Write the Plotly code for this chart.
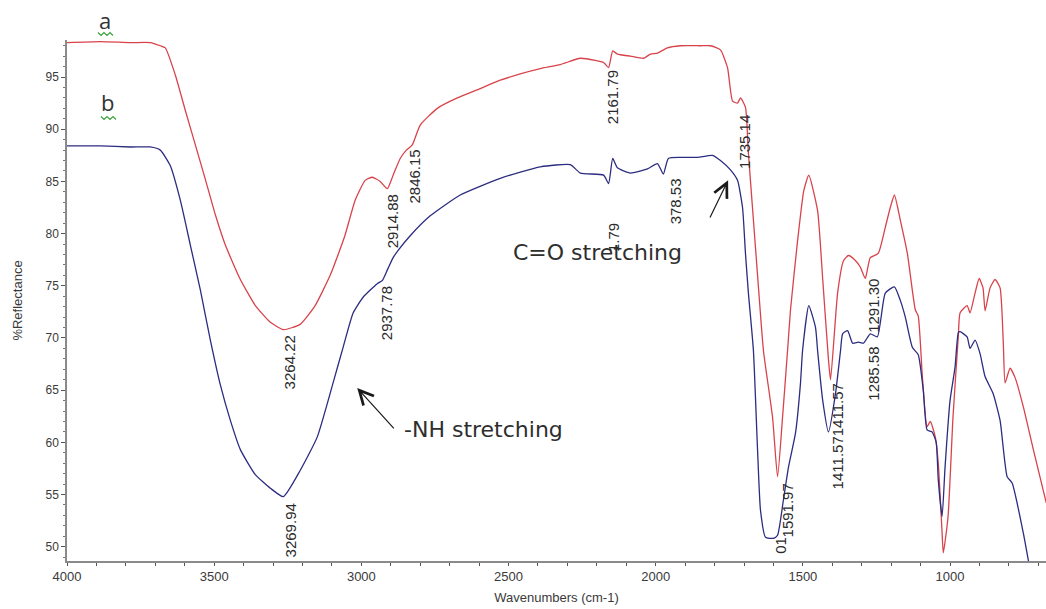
import plotly.graph_objects as go

# ---- data (wavenumber cm-1, % reflectance) ----
wn_a = [4000, 3887, 3785, 3717, 3683, 3666, 3632, 3598, 3564, 3530, 3496, 3462, 3411, 3360, 3309, 3265,
        3208, 3157, 3106, 3056, 3021, 2987, 2963, 2936, 2912, 2892, 2868, 2847, 2827, 2800, 2742, 2674,
        2596, 2528, 2460, 2392, 2324, 2256, 2205, 2177, 2160, 2146, 2130, 2086, 2041, 2018, 1994, 1960,
        1916, 1848, 1814, 1780, 1756, 1739, 1722, 1712, 1695, 1685, 1668, 1651, 1634, 1603, 1586, 1569,
        1552, 1542, 1518, 1497, 1480, 1450, 1433, 1413, 1406, 1382, 1362, 1345, 1321, 1305, 1288, 1271,
        1244, 1220, 1203, 1189, 1169, 1145, 1118, 1108, 1094, 1078, 1067, 1050, 1040, 1027, 1023, 1007,
        990, 972, 966, 942, 932, 915, 901, 888, 881, 864, 847, 830, 819, 813, 796, 779, 751, 717, 673]
refl_a = [98.3, 98.4, 98.3, 98.3, 98.0, 97.8, 95.2, 91.8, 88.5, 85.2, 81.8, 78.9, 75.6, 73.1, 71.5, 70.8,
          71.3, 73.1, 76.0, 79.8, 83.2, 85.1, 85.4, 85.0, 84.3, 85.6, 87.2, 88.0, 88.5, 90.4, 92.0, 93.0,
          93.9, 94.7, 95.3, 95.8, 96.2, 96.8, 96.6, 96.4, 95.9, 97.5, 97.2, 97.0, 96.8, 97.2, 97.3, 97.8,
          98.0, 98.0, 98.0, 97.6, 95.9, 92.7, 92.5, 93.0, 92.1, 87.7, 81.3, 74.9, 68.8, 62.4, 56.7, 62.4,
          68.8, 72.7, 79.3, 84.1, 85.6, 82.2, 75.8, 67.9, 66.0, 74.3, 77.4, 77.9, 77.4, 76.8, 75.7, 77.7,
          78.1, 80.6, 82.5, 83.7, 81.3, 78.1, 72.7, 72.1, 66.3, 61.5, 62.0, 60.5, 58.0, 51.3, 49.4, 52.8,
          62.4, 70.1, 72.4, 73.1, 72.4, 74.3, 75.7, 74.8, 72.6, 74.8, 75.6, 74.8, 69.5, 65.7, 67.1, 66.2,
          63.4, 59.3, 54.2]

wn_b = [4000, 3887, 3785, 3717, 3683, 3649, 3615, 3581, 3547, 3513, 3479, 3445, 3411, 3360, 3309, 3265,
        3208, 3150, 3096, 3062, 3028, 2994, 2946, 2929, 2912, 2892, 2875, 2834, 2766, 2664, 2528, 2392,
        2290, 2256, 2177, 2160, 2146, 2130, 2086, 2028, 1994, 1974, 1957, 1916, 1858, 1807, 1780, 1746,
        1722, 1705, 1695, 1685, 1668, 1654, 1644, 1627, 1600, 1586, 1566, 1549, 1525, 1508, 1501, 1480,
        1457, 1450, 1433, 1413, 1389, 1372, 1365, 1348, 1331, 1311, 1294, 1271, 1247, 1220, 1189, 1169,
        1152, 1128, 1108, 1091, 1078, 1061, 1047, 1040, 1027, 1017, 1000, 983, 972, 966, 942, 932, 915,
        898, 881, 854, 830, 806, 789, 751, 734, 720]
refl_b = [88.4, 88.4, 88.3, 88.3, 88.0, 86.5, 83.2, 78.9, 74.6, 69.8, 65.5, 62.1, 59.3, 56.9, 55.6, 54.8,
          57.3, 60.5, 65.7, 69.1, 72.4, 73.9, 75.2, 75.5, 76.5, 77.7, 78.4, 79.8, 81.7, 83.7, 85.3, 86.4,
          86.6, 85.8, 85.6, 84.8, 87.2, 86.3, 85.8, 86.2, 86.7, 85.7, 87.2, 87.3, 87.3, 87.5, 87.0, 86.1,
          85.1, 82.5, 78.1, 74.3, 68.8, 59.3, 53.5, 50.9, 50.8, 51.1, 54.5, 57.6, 60.9, 65.7, 68.8, 73.1,
          71.0, 68.8, 64.1, 61.0, 64.7, 68.8, 70.4, 70.7, 69.5, 69.6, 69.5, 70.4, 70.1, 74.3, 74.9, 73.6,
          72.0, 69.1, 68.4, 65.0, 61.2, 61.0, 60.0, 56.4, 52.9, 57.6, 64.0, 67.2, 70.5, 70.6, 70.1, 69.0, 69.8,
          68.5, 66.3, 64.7, 62.1, 56.7, 56.1, 51.3, 48.7, 46.8]

# peak labels (text, wavenumber, reflectance)
peak_text = ["3264.22", "3269.94", "2937.78", "2914.88", "2846.15", "2161.79", "1.79", "378.53",
             "1735.14", "1591.97", "01", "1411.571411.57", "1291.30", "1285.58"]
peak_wn = [3241, 3241, 2912, 2895, 2820, 2144, 2144, 1934, 1696, 1553, 1577, 1383, 1261, 1261]
peak_y = [67.7, 51.6, 72.4, 81.2, 85.5, 93.1, 79.6, 83.1, 88.8, 53.5, 50.1, 60.6, 73.1, 66.6]

x_ticks = [4000, 3500, 3000, 2500, 2000, 1500, 1000]
y_ticks = [50, 55, 60, 65, 70, 75, 80, 85, 90, 95]

RED = "#d8434b"
BLUE = "#2c2c80"
TICKFONT = dict(family="Liberation Sans Narrow, Arial Narrow, sans-serif", size=13, color="#3a3a3a")
PEAKFONT = dict(family="Liberation Sans, Arial, sans-serif", size=15, color="#2a2a2a")
LETTERFONT = dict(family="Open Sans, Segoe UI, sans-serif", size=22, color="#333333")


def squiggle(x0, x1, y, amp=1.5, step=3):
    """wavy underline path in pixel space -> paper coords"""
    pts = []
    x = x0
    k = 0
    while x <= x1:
        yy = y + (amp if k % 2 else -amp)
        pts.append(((x - 67) / 979, (561 - yy) / 521))
        x += step
        k += 1
    return "M" + " L".join(f"{px:.5f},{py:.5f}" for px, py in pts)


fig = go.Figure()
fig.add_trace(go.Scatter(x=wn_a, y=refl_a, mode="lines",
                         line=dict(color=RED, width=1.3, shape="spline", smoothing=0.5),
                         showlegend=False, hoverinfo="skip"))
fig.add_trace(go.Scatter(x=wn_b, y=refl_b, mode="lines",
                         line=dict(color=BLUE, width=1.3, shape="spline", smoothing=0.5),
                         showlegend=False, hoverinfo="skip"))

annotations = []
for t, xv, yv in zip(peak_text, peak_wn, peak_y):
    annotations.append(dict(x=xv, y=yv, xref="x", yref="y", text=t, showarrow=False, textangle=-90,
                            font=PEAKFONT))

label_font = dict(family="DejaVu Sans, Segoe UI, sans-serif", size=22, color="#2e2e2e")
annotations.append(dict(x=2199, y=78.2, xref="x", yref="y", text="C=O stretching", showarrow=False,
                        font=label_font))
annotations.append(dict(x=2586, y=61.2, xref="x", yref="y", text="-NH stretching", showarrow=False,
                        font=label_font))
# arrows
annotations.append(dict(x=1754, y=85.1, ax=1818, ay=81.4, xref="x", yref="y", axref="x", ayref="y",
                        text="", showarrow=True, arrowhead=5, arrowsize=2.3, arrowwidth=1.2,
                        arrowcolor="#1a1a1a"))
annotations.append(dict(x=3014, y=65.2, ax=2885, ay=61.2, xref="x", yref="y", axref="x", ayref="y",
                        text="", showarrow=True, arrowhead=5, arrowsize=2.3, arrowwidth=1.2,
                        arrowcolor="#1a1a1a"))
# series letters
annotations.append(dict(x=0.0388, y=1.038, xref="paper", yref="paper", text="a", showarrow=False,
                        yanchor="middle", xanchor="center", font=LETTERFONT))
annotations.append(dict(x=3862, y=92.6, xref="x", yref="y", text="b", showarrow=False,
                        yanchor="middle", xanchor="center", font=LETTERFONT))

shapes = [
    dict(type="path", xref="paper", yref="paper", path=squiggle(98, 114, 34),
         line=dict(color="#3aa23a", width=1.2)),
    dict(type="path", xref="paper", yref="paper", path=squiggle(101, 117, 118),
         line=dict(color="#3aa23a", width=1.2)),
]

fig.update_layout(
    width=1046, height=609,
    margin=dict(l=67, r=0, t=40, b=48),
    paper_bgcolor="white", plot_bgcolor="white",
    annotations=annotations,
    shapes=shapes,
    xaxis=dict(range=[4000, 674], tickvals=x_ticks, ticktext=[str(v) for v in x_ticks],
               showgrid=False, zeroline=False, showline=True, linecolor="#8a8a8a", linewidth=1.5,
               ticks="outside", ticklen=3, tickcolor="#555", tickfont=TICKFONT,
               minor=dict(dtick=100, ticks="outside", ticklen=3, tickcolor="#555"),
               title=dict(text="Wavenumbers (cm-1)", font=TICKFONT, standoff=10)),
    yaxis=dict(range=[48.63, 98.55], tickvals=y_ticks, showgrid=False, zeroline=False,
               showline=True, linecolor="#8a8a8a", linewidth=1.5,
               ticks="outside", ticklen=4, tickcolor="#555", tickfont=dict(TICKFONT, size=12),
               minor=dict(dtick=1, ticks="outside", ticklen=2, tickcolor="#777"),
               title=dict(text="%Reflectance",
                          font=dict(family="Liberation Sans, Arial, sans-serif", size=13, color="#3a3a3a"),
                          standoff=20)),
)

fig.write_html("out.html")
